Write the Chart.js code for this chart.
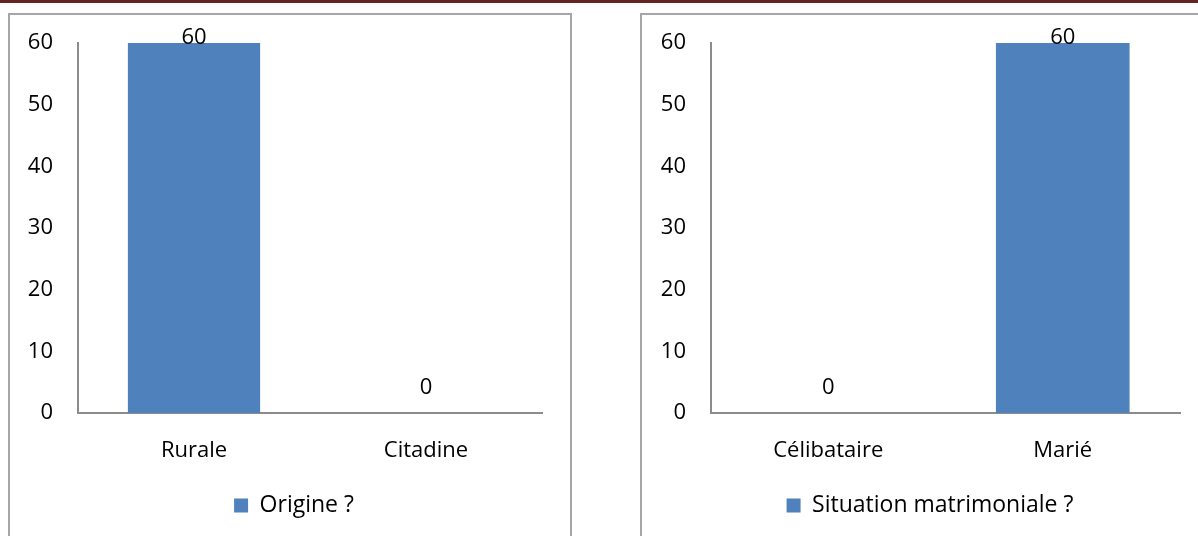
<!DOCTYPE html>
<html>
<head>
<meta charset="utf-8">
<script src="https://cdn.jsdelivr.net/npm/chart.js@4/dist/chart.umd.min.js"></script>
<style>
  html, body { margin: 0; padding: 0; background: #fff; }
  body { width: 1198px; height: 536px; overflow: hidden; position: relative; }
  .rule { position: absolute; left: 0; top: 0; width: 1198px; height: 3px; background: #632423; }
  .frame { position: absolute; top: 13px; height: 600px; border: 2px solid #a6a6a6; box-sizing: border-box; }
  canvas { position: absolute; top: 15px; }
</style>
</head>
<body>
<div class="rule"></div>
<div class="frame" style="left:8px; width:564px;"></div>
<div class="frame" style="left:640px; width:572px;"></div>
<canvas id="origine" width="560" height="521" style="left:10px;"></canvas>
<canvas id="situation" width="568" height="521" style="left:642px;"></canvas>
<script>
// Origine des répondants
const origineCategories = ['Rurale', 'Citadine'];
const origineValues = [60, 0];
const origineSeries = 'Origine ?';

// Situation matrimoniale des répondants
const situationCategories = ['Célibataire', 'Marié'];
const situationValues = [0, 60];
const situationSeries = 'Situation matrimoniale ?';

const yTicks = { min: 0, max: 60, step: 10 };

const FAMILY = "'Open Sans', 'Noto Sans', sans-serif";
const FONT = { family: FAMILY, size: 22 };
const LEGEND_FONT = { family: FAMILY, size: 23 };
const BAR_BLUE = '#4f81bd';
const AXIS_GREY = '#8c8c8c';

// Value labels above each bar, kept inside the plot area
const valueLabels = {
  id: 'valueLabels',
  afterDatasetsDraw(chart) {
    const ctx = chart.ctx;
    const area = chart.chartArea;
    ctx.save();
    ctx.font = `${FONT.size}px ${FONT.family}`;
    ctx.fillStyle = '#000';
    ctx.textAlign = 'center';
    ctx.textBaseline = 'alphabetic';
    chart.data.datasets.forEach((ds, di) => {
      chart.getDatasetMeta(di).data.forEach((bar, i) => {
        const y = Math.max(bar.y - 19, area.top + 1);
        ctx.fillText(String(ds.data[i]), bar.x, y);
      });
    });
    ctx.restore();
  }
};

function buildChart(id, categories, values, series, yAxisWidth, rightGap) {
  return new Chart(document.getElementById(id), {
    type: 'bar',
    data: {
      labels: categories,
      datasets: [{
        label: series,
        data: values,
        backgroundColor: BAR_BLUE,
        borderWidth: 0,
        barPercentage: 0.57,
        categoryPercentage: 1
      }]
    },
    options: {
      responsive: false,
      animation: false,
      devicePixelRatio: 1,
      layout: { padding: { left: 8, right: 0, top: 28, bottom: 9 } },
      scales: {
        x: {
          grid: { display: false, drawTicks: false },
          border: { display: true, color: AXIS_GREY, width: 2 },
          ticks: { color: '#000', font: FONT, padding: 25 },
          afterFit(s) { s.height = 71; }
        },
        y: {
          min: yTicks.min,
          max: yTicks.max,
          grid: { display: false, drawTicks: false },
          border: { display: true, color: AXIS_GREY, width: 2 },
          ticks: { stepSize: yTicks.step, color: '#000', font: FONT, padding: 25 },
          afterFit(s) {
            s.width = yAxisWidth;
            s.paddingTop = 0;
            s.paddingBottom = 0;
          }
        },
        gap: {
          position: 'right',
          display: true,
          grid: { display: false, drawTicks: false },
          border: { display: false },
          ticks: { display: false },
          afterFit(s) { s.width = rightGap; }
        }
      },
      plugins: {
        legend: {
          position: 'bottom',
          labels: {
            color: '#000',
            font: LEGEND_FONT,
            boxWidth: 14,
            boxHeight: 14,
            padding: 10
          }
        },
        tooltip: { enabled: false }
      }
    },
    plugins: [valueLabels]
  });
}

buildChart('origine', origineCategories, origineValues, origineSeries, 60, 28);
buildChart('situation', situationCategories, situationValues, situationSeries, 61, 30);
</script>
</body>
</html>
